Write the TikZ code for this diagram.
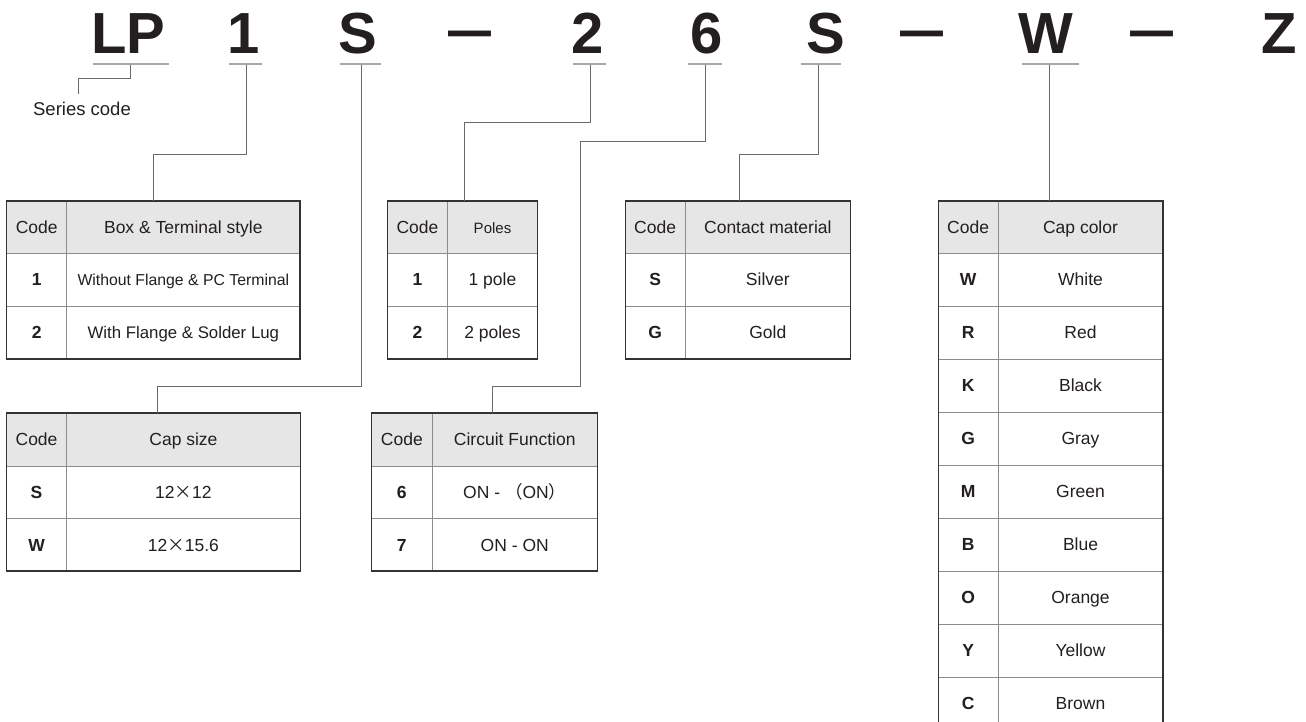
\documentclass[tikz,border=0pt]{standalone}
\usepackage{fontspec}
\setmainfont{Liberation Sans}
\newfontfamily\cjk{Noto Sans CJK JP}
\definecolor{ink}{HTML}{231F20}
\definecolor{headgray}{HTML}{E6E6E6}
\definecolor{framecol}{HTML}{333333}
\definecolor{innergray}{HTML}{8C8C8C}
\definecolor{conncol}{HTML}{6A6A6A}
\definecolor{ulinecol}{HTML}{A8A8A8}
\newcommand\tfont{\fontsize{17.5}{20}\selectfont}
\newcommand\bigfnt{\fontsize{58}{60}\selectfont\bfseries}
\tikzset{
  big/.style={anchor=base, inner sep=0pt, outer sep=0pt, text=ink, font=\bigfnt},
  uline/.style={draw=ulinecol, line width=2pt},
  conn/.style={draw=conncol, line width=1pt},
  cell/.style={draw=innergray, line width=1pt, inner sep=0pt, outer sep=0pt,
    text=ink, font=\tfont, text height=12.5pt, text depth=0pt, align=center},
  headrow/.style={fill=headgray},
  bodyrow/.style={},
  frame/.style={draw=framecol, line width=1.4pt},
  label/.style={inner sep=0pt, text=ink, font=\fontsize{18.5}{20}\selectfont}
}
% #1 name, #2 xl, #3 xd, #4 xr, #5 yt, #6 yb, #7 code, #8 text, #9 style
\newcommand\trow[9]{%
  \node[cell,#9,anchor=north west,minimum width={(#3)-(#2)},minimum height={(#6)-(#5)}] (#1c) at (#2,#5) {#7};
  \node[cell,#9,anchor=north west,minimum width={(#4)-(#3)},minimum height={(#6)-(#5)}] (#1d) at (#3,#5) {#8};
}
\begin{document}
\begin{tikzpicture}[x=1pt,y=-1pt]
\clip (0,0) rectangle (1306,722);
\fill[white] (0,0) rectangle (1306,722);

% ---- code string ----
\node[big] (kLP) at (128.5,53.3) {LP};
\node[big] (k1) at (244,53.3) {1};
\node[big] (kS) at (357.5,53.3) {S};
\node[big] (kd1) at (470,53.3) {\raisebox{4pt}{\scalebox{0.74}[1]{—}}};
\node[big] (k2) at (587.5,53.3) {2};
\node[big] (k6) at (707,53.3) {6};
\node[big] (kS2) at (825.5,53.3) {S};
\node[big] (kd2) at (922,53.3) {\raisebox{4pt}{\scalebox{0.74}[1]{—}}};
\node[big] (kW) at (1045.5,53.3) {W};
\node[big] (kd3) at (1151.5,53.3) {\raisebox{4pt}{\scalebox{0.74}[1]{—}}};
\node[big] (kZ) at (1279.5,53.3) {Z};

% ---- underlines ----
\draw[uline] (92.6,64) -- (169,64);
\draw[uline] (229,64) -- (262,64);
\draw[uline] (340,64) -- (380.5,64);
\draw[uline] (573,64) -- (606,64);
\draw[uline] (688,64) -- (722,64);
\draw[uline] (800.6,64) -- (840.5,64);
\draw[uline] (1021.5,64) -- (1079,64);

\coordinate (aLP) at (130.5,65);
\coordinate (a1) at (246,65);
\coordinate (aS) at (361,65);
\coordinate (a2) at (590.5,65);
\coordinate (a6) at (705,65);
\coordinate (aS2) at (818.4,65);
\coordinate (aW) at (1049.3,65);

% ---- series code ----
\node[label] (series) at (82,108.5) {Series code};
\coordinate (sLP) at (78.7,94);
\draw[conn] (aLP) |- (78.7,79) -- (sLP);

% ---- table 1: Box & Terminal style ----
\trow{t1h}{6.7}{66.7}{300}{201}{253}{Code}{Box \& Terminal style}{headrow}
\trow{t1a}{6.7}{66.7}{300}{253}{306}{\textbf{1}}{\fontsize{15.8}{18}\selectfont Without Flange \& PC Terminal}{bodyrow}
\trow{t1b}{6.7}{66.7}{300}{306}{359}{\textbf{2}}{\fontsize{16.8}{18}\selectfont With Flange \& Solder Lug}{bodyrow}
\draw[frame] (6.7,201) rectangle (300,359);
\coordinate (t1top) at (153.6,201);
\draw[conn] (a1) |- (153.6,154.7) -- (t1top);

% ---- table 2: Poles ----
\trow{t2h}{387.3}{447.7}{537.3}{201}{253}{Code}{\fontsize{15}{18}\selectfont Poles}{headrow}
\trow{t2a}{387.3}{447.7}{537.3}{253}{306}{\textbf{1}}{1 pole}{bodyrow}
\trow{t2b}{387.3}{447.7}{537.3}{306}{359}{\textbf{2}}{2 poles}{bodyrow}
\draw[frame] (387.3,201) rectangle (537.3,359);
\coordinate (t2top) at (464,201);
\draw[conn] (a2) |- (464,122.7) -- (t2top);

% ---- table 3: Contact material ----
\trow{t3h}{625.3}{685}{850.7}{201}{253}{Code}{Contact material}{headrow}
\trow{t3a}{625.3}{685}{850.7}{253}{306}{\textbf{S}}{Silver}{bodyrow}
\trow{t3b}{625.3}{685}{850.7}{306}{359}{\textbf{G}}{Gold}{bodyrow}
\draw[frame] (625.3,201) rectangle (850.7,359);
\coordinate (t3top) at (739.8,201);
\draw[conn] (aS2) |- (739.8,154.7) -- (t3top);

% ---- table 4: Cap size ----
\trow{t4h}{6.7}{66.4}{300.5}{413}{466}{Code}{Cap size}{headrow}
\trow{t4a}{6.7}{66.4}{300.5}{466}{518.5}{\textbf{S}}{12{\cjk ×}12}{bodyrow}
\trow{t4b}{6.7}{66.4}{300.5}{518.5}{571}{\textbf{W}}{12{\cjk ×}15.6}{bodyrow}
\draw[frame] (6.7,413) rectangle (300.5,571);
\coordinate (t4top) at (157,413);
\draw[conn] (aS) |- (157,386) -- (t4top);

% ---- table 5: Circuit Function ----
\trow{t5h}{371.7}{432}{597.5}{413}{466}{Code}{Circuit Function}{headrow}
\trow{t5a}{371.7}{432}{597.5}{466}{518.5}{\textbf{6}}{ON - {\cjk （}ON{\cjk ）}}{bodyrow}
\trow{t5b}{371.7}{432}{597.5}{518.5}{571}{\textbf{7}}{ON - ON}{bodyrow}
\draw[frame] (371.7,413) rectangle (597.5,571);
\coordinate (t5top) at (492.5,413);
\draw[conn] (a6) |- (580.6,141.5) |- (492.5,386) -- (t5top);

% ---- table 6: Cap color ----
\trow{t6h}{938.3}{998}{1163}{201}{253}{Code}{Cap color}{headrow}
\trow{t6a}{938.3}{998}{1163}{253}{306}{\textbf{W}}{White}{bodyrow}
\trow{t6b}{938.3}{998}{1163}{306}{359}{\textbf{R}}{Red}{bodyrow}
\trow{t6c}{938.3}{998}{1163}{359}{412}{\textbf{K}}{Black}{bodyrow}
\trow{t6d}{938.3}{998}{1163}{412}{465}{\textbf{G}}{Gray}{bodyrow}
\trow{t6e}{938.3}{998}{1163}{465}{518}{\textbf{M}}{Green}{bodyrow}
\trow{t6f}{938.3}{998}{1163}{518}{571}{\textbf{B}}{Blue}{bodyrow}
\trow{t6g}{938.3}{998}{1163}{571}{624}{\textbf{O}}{Orange}{bodyrow}
\trow{t6i}{938.3}{998}{1163}{624}{677}{\textbf{Y}}{Yellow}{bodyrow}
\trow{t6j}{938.3}{998}{1163}{677}{730}{\textbf{C}}{Brown}{bodyrow}
\draw[frame] (938.3,201) rectangle (1163,730);
\coordinate (t6top) at (1049.3,201);
\draw[conn] (aW) -- (t6top);
\end{tikzpicture}
\end{document}
